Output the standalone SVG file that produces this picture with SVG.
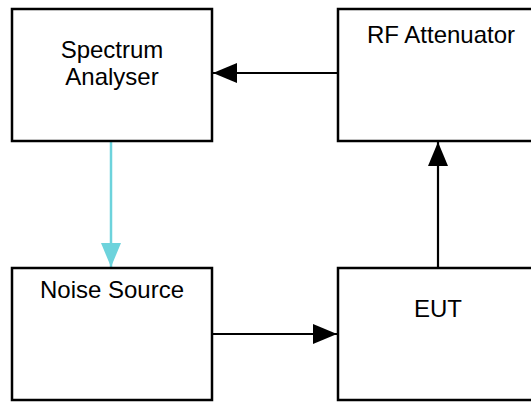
<svg xmlns="http://www.w3.org/2000/svg" width="531" height="403" viewBox="0 0 531 403">
  <style>
    .box { fill: #ffffff; stroke: #000000; stroke-width: 2.5; }
    .lbl { font-family: "Liberation Sans", Arial, sans-serif; font-size: 24px; fill: #000000; text-anchor: middle; }
    .conn { fill: none; stroke: #000000; stroke-width: 2.2; }
    .cyan { fill: none; stroke: #6dd3dc; stroke-width: 2.5; }
  </style>
  <defs>
    <marker id="ah" markerUnits="userSpaceOnUse" markerWidth="24" markerHeight="20" refX="24" refY="10" orient="auto">
      <path d="M0,0 L24,10 L0,20 z" fill="#000000"/>
    </marker>
    <marker id="ahc" markerUnits="userSpaceOnUse" markerWidth="24" markerHeight="20" refX="24" refY="10" orient="auto">
      <path d="M0,0 L24,10 L0,20 z" fill="#6dd3dc"/>
    </marker>
  </defs>
  <rect width="531" height="403" fill="#ffffff"/>
  <g id="connectors">
    <line class="conn" x1="338" y1="73" x2="213" y2="73" marker-end="url(#ah)"/>
    <line class="conn" x1="438" y1="268" x2="438" y2="142" marker-end="url(#ah)"/>
    <line class="conn" x1="212" y1="334" x2="337" y2="334" marker-end="url(#ah)"/>
    <line class="cyan" x1="111" y1="142" x2="111" y2="267" marker-end="url(#ahc)"/>
  </g>
  <g id="spectrum-analyser">
    <rect class="box" x="12" y="9" width="200" height="132"/>
    <text class="lbl" x="112" y="58">Spectrum</text>
    <text class="lbl" x="112" y="85">Analyser</text>
  </g>
  <g id="rf-attenuator">
    <rect class="box" x="338" y="9" width="210" height="132"/>
    <text class="lbl" x="441" y="43">RF Attenuator</text>
  </g>
  <g id="noise-source">
    <rect class="box" x="12" y="268" width="200" height="132"/>
    <text class="lbl" x="112" y="298">Noise Source</text>
  </g>
  <g id="eut">
    <rect class="box" x="338" y="268" width="210" height="132"/>
    <text class="lbl" x="438" y="317">EUT</text>
  </g>
</svg>
